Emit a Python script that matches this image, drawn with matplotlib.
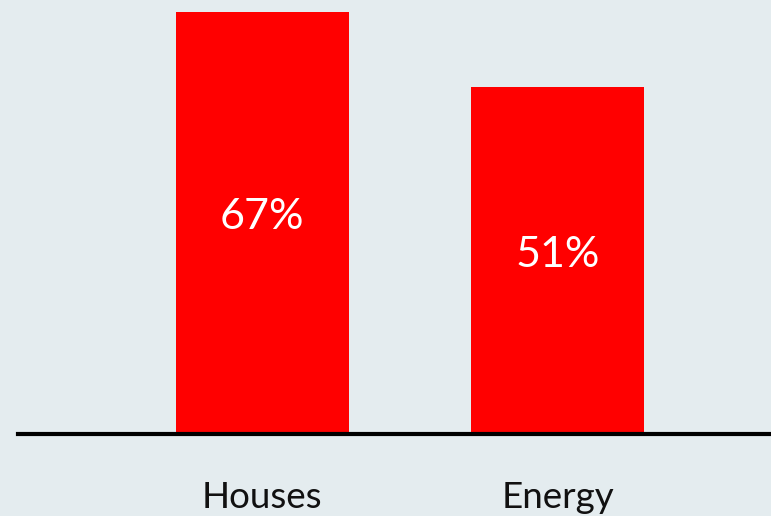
import matplotlib.pyplot as plt

categories = ["Houses", "Energy"]
shares = [67, 51]
labels = ["67%", "51%"]

bg = "#e4ecef"
red = "#ff0000"
base = -22.9   # bars start below zero on this scale

plt.rcParams["font.family"] = ["Lato", "DejaVu Sans"]

fig = plt.figure(figsize=(7.71, 5.16), dpi=100, facecolor=bg)
ax = fig.add_axes([18 / 771, 82.5 / 516, 1 - 18 / 771, 1 - 82.5 / 516])
ax.set_facecolor(bg)

x = range(len(categories))
bars = ax.bar(x, [v - base for v in shares], bottom=base, width=0.585,
              color=red, zorder=2)

for b, lab, v in zip(bars, labels, shares):
    ax.annotate(lab, (b.get_x() + b.get_width() / 2, (base + v) / 2),
                xytext=(0, 4), textcoords="offset points",
                ha="center", va="center", color="white", fontsize=31,
                zorder=3)

ax.set_xlim(-0.826, 1.722)
ax.set_ylim(base, 69.56)

for s in ["top", "right", "left"]:
    ax.spines[s].set_visible(False)
ax.spines["bottom"].set_linewidth(3)
ax.spines["bottom"].set_color("black")
ax.spines["bottom"].set_zorder(4)

ax.set_yticks([])
ax.set_xticks(list(x))
ax.set_xticklabels(categories, fontsize=26.5, color="#111111")
ax.tick_params(axis="x", length=0, pad=34)

fig.savefig("out.png", dpi=100, facecolor=bg)
